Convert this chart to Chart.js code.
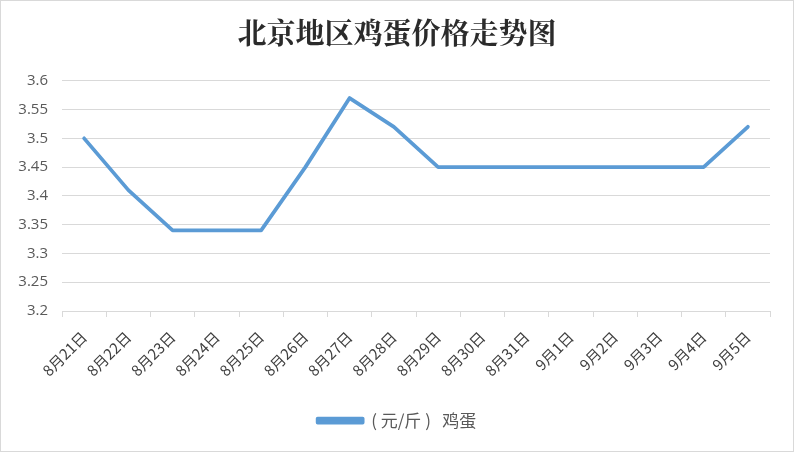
<!DOCTYPE html>
<html><head><meta charset="utf-8">
<script src="https://cdn.jsdelivr.net/npm/chart.js@4"></script>
<style>
html,body{margin:0;padding:0;background:#fff;}
#wrap{width:792px;height:450px;border:1px solid #d9d9d9;position:relative;}
canvas{display:block;}
</style></head>
<body><div id="wrap"><canvas id="c" width="792" height="450"></canvas></div>
<script>
const titleText = '北京地区鸡蛋价格走势图';
const categories = ['8月21日','8月22日','8月23日','8月24日','8月25日','8月26日','8月27日','8月28日','8月29日','8月30日','8月31日','9月1日','9月2日','9月3日','9月4日','9月5日'];
const seriesName = '( 元/斤 )   鸡蛋';
const eggPrices = [3.50,3.41,3.34,3.34,3.34,3.45,3.57,3.52,3.45,3.45,3.45,3.45,3.45,3.45,3.45,3.52];
const yMin = 3.2, yMax = 3.6, yStep = 0.05;

const cjk = '"Microsoft YaHei","Noto Sans CJK SC",sans-serif';
new Chart(document.getElementById('c'), {
  type: 'line',
  data: {
    labels: categories,
    datasets: [{
      label: seriesName,
      data: eggPrices,
      borderColor: '#5b9bd5',
      backgroundColor: '#5b9bd5',
      borderWidth: 3.75,
      pointRadius: 0,
      tension: 0,
      borderJoinStyle: 'round',
      borderCapStyle: 'round'
    }]
  },
  options: {
    responsive: false,
    animation: false,
    layout: { padding: { left: 0, right: 0, top: 0, bottom: 12 } },
    plugins: {
      title: {
        display: true, text: titleText, color: '#2b2b2b',
        font: { family: '"Noto Serif CJK SC","Source Han Serif SC","SimSun","Noto Sans CJK SC",serif', size: 29, weight: 'bold' },
        padding: { top: 15, bottom: 30 }
      },
      legend: {
        position: 'bottom',
        labels: {
          color: '#595959', boxWidth: 45, boxHeight: 4,
          font: { family: cjk, size: 17 },
          padding: 9
        }
      },
      tooltip: { enabled: false }
    },
    scales: {
      x: {
        offset: true,
        grid: { offset: true, drawOnChartArea: false, drawTicks: true, tickLength: 6, color: '#d9d9d9', lineWidth: 1 },
        border: { color: '#d9d9d9', width: 1 },
        ticks: { color: '#404040', font: { family: cjk, size: 15 }, maxRotation: 45, minRotation: 45, autoSkip: false, padding: 11 },
        afterFit: s => { s.height = 92; }
      },
      y: {
        min: yMin, max: yMax,
        grid: { color: '#d9d9d9', drawTicks: false, lineWidth: 1 },
        border: { display: false },
        ticks: {
          stepSize: yStep, color: '#595959', padding: 14,
          font: { family: '"Open Sans","Liberation Sans",sans-serif', size: 15 },
          callback: v => String(Number(v.toFixed(2)))
        },
        afterFit: s => { s.width = 61; }
      },
      yRight: {
        position: 'right',
        min: yMin, max: yMax,
        grid: { display: false, drawTicks: false },
        border: { display: false },
        ticks: { display: false },
        afterFit: s => { s.width = 23; }
      }
    }
  }
});
</script></body></html>
